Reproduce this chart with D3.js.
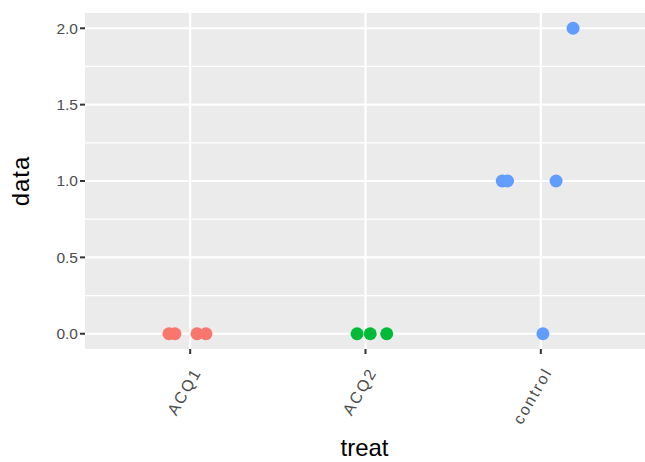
<!DOCTYPE html>
<html><head><meta charset="utf-8">
<script src="https://cdn.jsdelivr.net/npm/d3@7"></script>
<style>body{margin:0;background:#fff}text{font-family:"Liberation Sans",Arial,sans-serif}</style>
</head><body><svg id="c" width="645" height="462"></svg>
<script>
const categories = ["ACQ1","ACQ2","control"];
const colors = ["#F8766D","#00BA38","#619CFF"];
const pointTreat = ["ACQ1","ACQ1","ACQ1","ACQ1","ACQ2","ACQ2","ACQ2","control","control","control","control","control"];
const pointData  = [0,0,0,0, 0,0,0, 2,1,1,1,0];
const pointJitter= [-0.121,-0.087,0.039,0.09, -0.048,0.027,0.121, 0.184,-0.22,-0.19,0.087,0.012];
const yTicks = [0,0.5,1,1.5,2];
const yMinor = [0.25,0.75,1.25,1.75];
const xTitle = "treat", yTitle = "data";

const svg = d3.select("#c");
const L=85, R=646, T=13, B=349;
const x = d3.scaleLinear().domain([0.4,3.6]).range([L,R]);
const catPos = d => categories.indexOf(d)+1;
const y = d3.scaleLinear().domain([-0.1,2.1]).range([B,T]);
const color = d3.scaleOrdinal().domain(categories).range(colors);

svg.append("rect").attr("x",L).attr("y",T).attr("width",R-L).attr("height",B-T).attr("fill","#EBEBEB");
const g = svg.append("g");
g.selectAll(".mn").data(yMinor).join("line").attr("x1",L).attr("x2",R)
  .attr("y1",d=>y(d)).attr("y2",d=>y(d)).attr("stroke","#fff").attr("stroke-width",1.3);
g.selectAll(".mj").data(yTicks).join("line").attr("x1",L).attr("x2",R)
  .attr("y1",d=>y(d)).attr("y2",d=>y(d)).attr("stroke","#fff").attr("stroke-width",2.2);
g.selectAll(".vx").data(categories).join("line").attr("y1",T).attr("y2",B)
  .attr("x1",d=>x(catPos(d))).attr("x2",d=>x(catPos(d))).attr("stroke","#fff").attr("stroke-width",2.2);

const pts = pointData.map((v,i)=>({t:pointTreat[i],v,j:pointJitter[i]}));
svg.selectAll(".pt").data(pts).join("circle")
  .attr("cx",d=>x(catPos(d.t)+d.j)).attr("cy",d=>y(d.v)).attr("r",6.5).attr("fill",d=>color(d.t));

// y axis
const ya = svg.append("g");
ya.selectAll("line").data(yTicks).join("line").attr("x1",L-5).attr("x2",L)
  .attr("y1",d=>y(d)).attr("y2",d=>y(d)).attr("stroke","#333").attr("stroke-width",2);
ya.selectAll("text").data(yTicks).join("text").attr("x",L-7).attr("y",d=>y(d))
  .attr("dy","0.35em").attr("text-anchor","end").attr("fill","#4D4D4D").attr("font-size",15.5)
  .text(d=>d3.format(".1f")(d));
// x axis
const xa = svg.append("g");
xa.selectAll("line").data(categories).join("line").attr("y1",B).attr("y2",B+5)
  .attr("x1",d=>x(catPos(d))).attr("x2",d=>x(catPos(d))).attr("stroke","#333").attr("stroke-width",2);
xa.selectAll("text").data(categories).join("text")
  .attr("transform",d=>`translate(${x(catPos(d))+7},${B+20}) rotate(-60)`)
  .attr("dy","0.35em").attr("text-anchor","end").attr("fill","#4D4D4D").attr("font-size",16)
  .attr("letter-spacing",2)
  .text(d=>d);

svg.append("text").attr("x",(L+R)/2-1).attr("y",456).attr("text-anchor","middle")
  .attr("font-size",24).attr("fill","#000").text(xTitle);
svg.append("text").attr("transform",`translate(29,${(T+B)/2}) rotate(-90)`).attr("text-anchor","middle")
  .attr("font-size",24).attr("fill","#000").attr("letter-spacing",1).text(yTitle);
</script></body></html>
